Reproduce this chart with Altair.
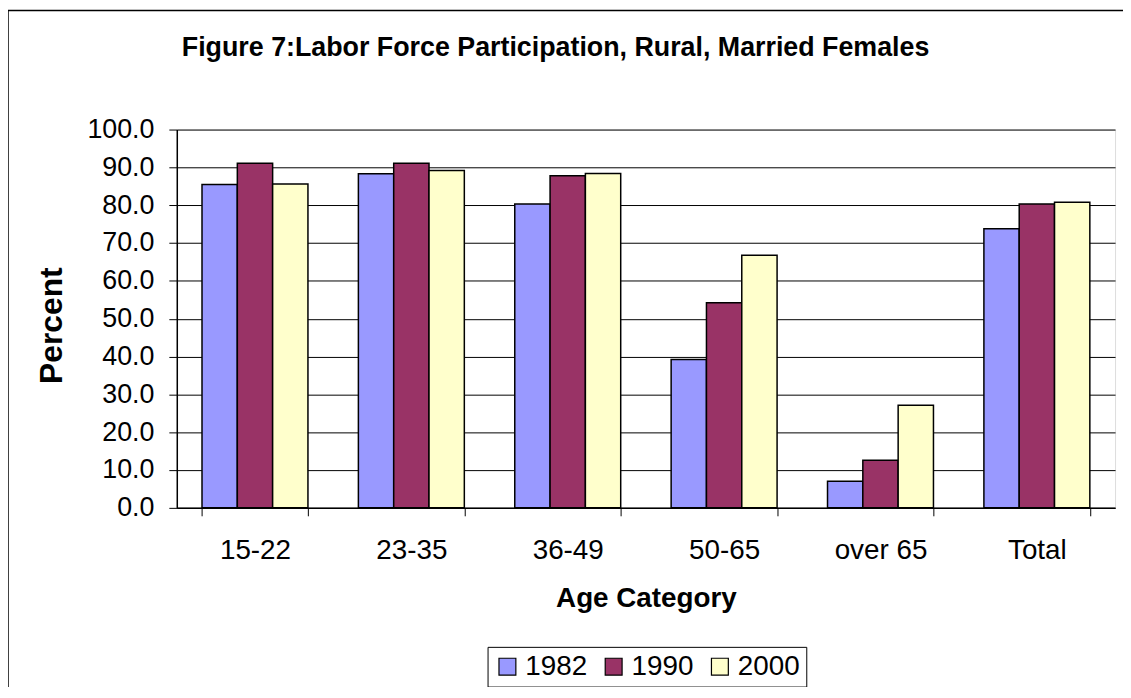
import altair as alt
import pandas as pd

categories = ["15-22", "23-35", "36-49", "50-65", "over 65", "Total"]
years = ["1982", "1990", "2000"]
v1982 = [85.5, 88.3, 80.3, 39.2, 7.0, 73.8]
v1990 = [91.1, 91.1, 87.8, 54.2, 12.6, 80.3]
v2000 = [85.6, 89.2, 88.4, 66.8, 27.1, 80.8]
colors = ["#9999FF", "#993366", "#FFFFCC"]
y_ticks = [0, 10, 20, 30, 40, 50, 60, 70, 80, 90, 100]

rows = []
for yr, vals in zip(years, [v1982, v1990, v2000]):
    for c, v in zip(categories, vals):
        rows.append({"Age": c, "Year": yr, "Percent": v})
df = pd.DataFrame(rows)

W, H = 945, 381
FONT = "Liberation Sans"

frame = alt.Chart(pd.DataFrame({"a": [0]})).mark_rect(
    fillOpacity=0, stroke="black", strokeWidth=1.5
).encode(
    x=alt.value(-170), x2=alt.value(970), y=alt.value(-120), y2=alt.value(700)
)

bars = alt.Chart(df).mark_bar(stroke="black", strokeWidth=1.5).encode(
    x=alt.X(
        "Age:N",
        sort=categories,
        scale=alt.Scale(paddingInner=0.3225, paddingOuter=0.16125),
        axis=alt.Axis(
            title="Age Category",
            labelAngle=0,
            tickBand="extent",
            tickSize=8,
            tickColor="black",
            domainColor="black",
            domainWidth=1.5,
            labelBaseline="alphabetic",
            labelPadding=43,
            labelFontSize=28,
            labelFont=FONT,
            labelColor="black",
            titleFontSize=28,
            titleFont=FONT,
            titleFontWeight="bold",
            titleColor="black",
            titleBaseline="alphabetic",
            titleY=99,
            grid=False,
        ),
    ),
    xOffset=alt.XOffset("Year:N", sort=years, scale=alt.Scale(paddingInner=0, paddingOuter=0)),
    y=alt.Y(
        "Percent:Q",
        scale=alt.Scale(domain=[0, 100], nice=False),
        axis=alt.Axis(
            title="Percent",
            values=y_ticks,
            format=".1f",
            tickSize=8,
            tickColor="black",
            domainColor="black",
            domainWidth=1.5,
            labelPadding=15,
            labelFontSize=27,
            labelFont=FONT,
            labelColor="black",
            titleFontSize=32,
            titleFont=FONT,
            titleFontWeight="bold",
            titleColor="black",
            titleAngle=-90,
            titleAlign="center",
            titleBaseline="alphabetic",
            titleX=-116,
            titleY=197,
            grid=True,
            gridColor="black",
            gridWidth=1,
        ),
    ),
    color=alt.Color(
        "Year:N",
        sort=years,
        scale=alt.Scale(domain=years, range=colors),
        legend=alt.Legend(
            title=None,
            orient="none",
            legendX=313,
            legendY=521,
            direction="horizontal",
            symbolType="square",
            symbolSize=289,
            symbolStrokeColor="black",
            symbolStrokeWidth=1.2,
            symbolOpacity=1,
            labelFontSize=28,
            labelFont=FONT,
            labelColor="black",
            labelOffset=4,
            columnPadding=12,
            padding=6,
            strokeColor="black",
            fillColor="white",
        ),
    ),
)

chart = alt.layer(frame, bars).properties(
    width=W,
    height=H,
    autosize=alt.AutoSizeParams(type="none"),
    padding={"left": 170, "top": 120, "right": 8, "bottom": 178},
    title=alt.TitleParams(
        "Figure 7:Labor Force Participation, Rural, Married Females",
        anchor="middle",
        frame="group",
        dx=-91,
        offset=-74,
        baseline="alphabetic",
        fontSize=27,
        font=FONT,
        fontWeight="bold",
        color="black",
    ),
).configure_view(
    fill="#C0C0C0", stroke="#808080", strokeWidth=1.5
).configure(background="white")

chart.save("out.html", embed_options={"renderer": "svg", "actions": False})
